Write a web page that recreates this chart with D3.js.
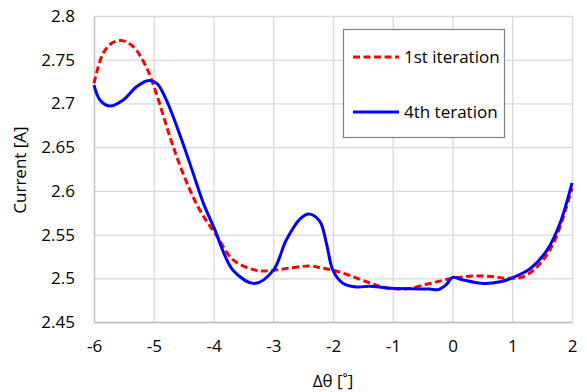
<!DOCTYPE html>
<html>
<head>
<meta charset="utf-8">
<script src="https://cdn.jsdelivr.net/npm/d3@7"></script>
<style>
  body { margin: 0; background: #fff; }
  text { font-family: "Open Sans", sans-serif; fill: #000; }
</style>
</head>
<body>
<div id="chart"></div>
<script>
// chart size and plot area
const width = 587;
const height = 392;
const margin = {left: 94, right: 15, top: 16, bottom: 70};

// x ticks, y ticks
const xTicks = [-6, -5, -4, -3, -2, -1, 0, 1, 2];
const yTicks = [2.45, 2.5, 2.55, 2.6, 2.65, 2.7, 2.75, 2.8];

// 1st iteration (red dashed)
const iter1X = [-6, -5.85, -5.7, -5.54, -5.4, -5.29, -5.1, -4.95, -4.73, -4.51, -4.23, -3.95, -3.67, -3.28, -3.0, -2.7, -2.39, -2.2, -1.99, -1.75, -1.44, -1.1, -0.77, -0.38, 0, 0.35, 0.65, 0.91, 1.19, 1.47, 1.69, 1.91, 2.0];
const iter1Y = [2.723, 2.757, 2.769, 2.772, 2.768, 2.761, 2.738, 2.710, 2.662, 2.620, 2.578, 2.549, 2.521, 2.509, 2.509, 2.512, 2.514, 2.512, 2.509, 2.504, 2.496, 2.489, 2.488, 2.494, 2.5, 2.5025, 2.502, 2.5, 2.502, 2.517, 2.54, 2.582, 2.603];

// 4th iteration (blue solid)
const iter4X = [-6, -5.9, -5.74, -5.51, -5.29, -5.1, -4.95, -4.79, -4.51, -4.34, -4.17, -3.95, -3.87, -3.67, -3.31, -3.0, -2.78, -2.55, -2.40, -2.22, -2.11, -2.0, -1.83, -1.6, -1.38, -1.1, -0.7, -0.38, -0.24, -0.1, 0.0, 0.18, 0.52, 0.8, 1.02, 1.30, 1.58, 1.80, 2.0];
const iter4Y = [2.721, 2.704, 2.697, 2.704, 2.719, 2.726, 2.723, 2.704, 2.654, 2.620, 2.586, 2.551, 2.536, 2.509, 2.494, 2.509, 2.544, 2.568, 2.5735, 2.565, 2.540, 2.509, 2.494, 2.490, 2.491, 2.489, 2.488, 2.4877, 2.487, 2.493, 2.501, 2.498, 2.494, 2.496, 2.501, 2.511, 2.532, 2.563, 2.609];

const series = [
  {name: "1st iteration", xs: iter1X, ys: iter1Y, color: "#ff0000", dash: "7,3.5"},
  {name: "4th teration", xs: iter4X, ys: iter4Y, color: "#0000ff", dash: null}
];

const svg = d3.select("#chart")
  .append("svg")
  .attr("width", width)
  .attr("height", height);

// scales
const xScale = d3.scaleLinear()
  .domain([-6, 2])
  .range([margin.left, width - margin.right]);

const yScale = d3.scaleLinear()
  .domain([2.45, 2.8])
  .range([height - margin.bottom, margin.top]);

// grid lines
svg.append("g")
  .selectAll("line.vgrid")
  .data(xTicks)
  .enter()
  .append("line")
    .attr("x1", d => xScale(d) + 0.5)
    .attr("x2", d => xScale(d) + 0.5)
    .attr("y1", yScale(2.8))
    .attr("y2", yScale(2.45))
    .attr("stroke", "#d9d9d9")
    .attr("stroke-width", 1.3);

svg.append("g")
  .selectAll("line.hgrid")
  .data(yTicks)
  .enter()
  .append("line")
    .attr("x1", xScale(-6))
    .attr("x2", xScale(2))
    .attr("y1", d => yScale(d) + 0.5)
    .attr("y2", d => yScale(d) + 0.5)
    .attr("stroke", "#d9d9d9")
    .attr("stroke-width", 1.3);

// axes (labels only, the lines come from the grid)
const xAxis = svg.append("g")
  .attr("transform", `translate(0,${yScale(2.45)})`)
  .call(d3.axisBottom(xScale).tickValues(xTicks).tickSize(0).tickPadding(18).tickFormat(d => String(d)));
xAxis.select(".domain").attr("stroke", "#bfbfbf").attr("stroke-width", 1.3);
xAxis.selectAll("text").attr("font-size", "17px").attr("font-family", "Open Sans");

const yAxis = svg.append("g")
  .attr("transform", `translate(${xScale(-6)},0)`)
  .call(d3.axisLeft(yScale).tickValues(yTicks).tickSize(0).tickPadding(19).tickFormat(d => String(+d.toFixed(2))));
yAxis.select(".domain").attr("stroke", "#bfbfbf").attr("stroke-width", 1.3);
yAxis.selectAll("text").attr("font-size", "17px").attr("font-family", "Open Sans");

// axis titles
svg.append("text")
  .attr("x", 333)
  .attr("y", 387)
  .attr("text-anchor", "middle")
  .attr("font-size", "17px")
  .text("Δθ [˚]");

svg.append("text")
  .attr("transform", "translate(26,170) rotate(-90)")
  .attr("text-anchor", "middle")
  .attr("font-size", "17px")
  .text("Current [A]");

// lines
const line = d3.line()
  .x(d => xScale(d[0]))
  .y(d => yScale(d[1]))
  .curve(d3.curveCatmullRom.alpha(0.5));

series.forEach(s => {
  svg.append("path")
    .datum(s.xs.map((x, i) => [x, s.ys[i]]))
    .attr("fill", "none")
    .attr("stroke", s.color)
    .attr("stroke-width", 3)
    .attr("stroke-dasharray", s.dash)
    .attr("d", line);
});

// legend
const legend = svg.append("g");
legend.append("rect")
  .attr("x", 343.5)
  .attr("y", 29.5)
  .attr("width", 161)
  .attr("height", 108)
  .attr("fill", "#fff")
  .attr("stroke", "#808080")
  .attr("stroke-width", 1.2);

series.forEach((s, i) => {
  const ly = 57 + i * 55;
  legend.append("line")
    .attr("x1", 353)
    .attr("x2", 399)
    .attr("y1", ly)
    .attr("y2", ly)
    .attr("stroke", s.color)
    .attr("stroke-width", 3)
    .attr("stroke-dasharray", s.dash);
  legend.append("text")
    .attr("x", 404)
    .attr("y", ly)
    .attr("dy", "0.35em")
    .attr("font-size", "17px")
    .text(s.name);
});
</script>
</body>
</html>
